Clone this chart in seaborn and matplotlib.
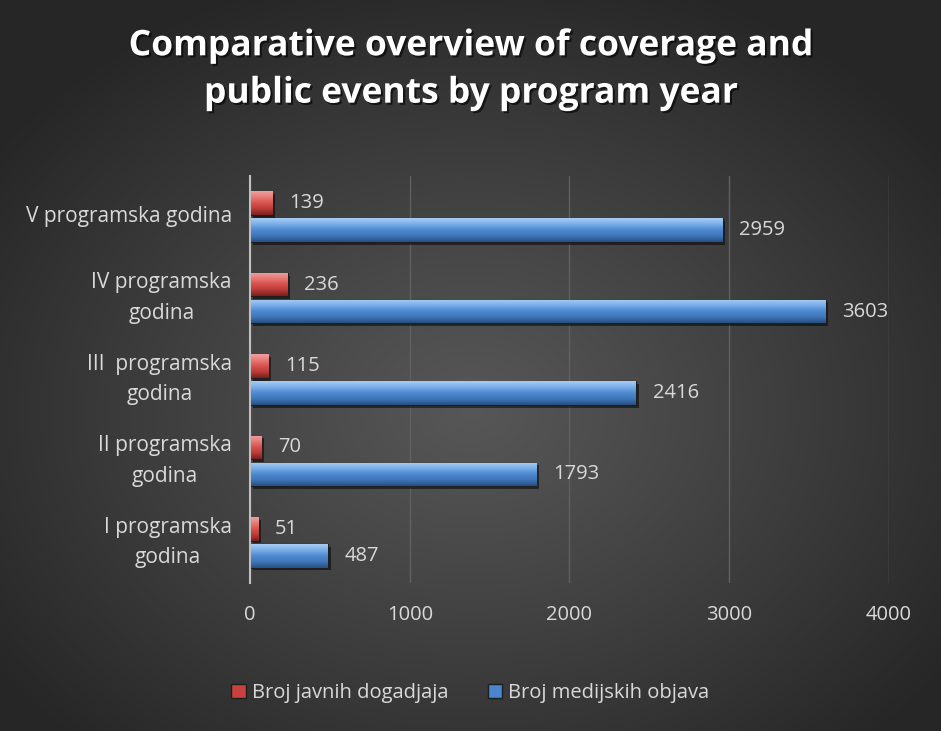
import numpy as np
import pandas as pd
import matplotlib
matplotlib.use("Agg")
import matplotlib.pyplot as plt
import matplotlib.patheffects as pe
from matplotlib.colors import LinearSegmentedColormap
from matplotlib.patches import Patch
import seaborn as sns

# Program years (top to bottom) and their counts
categories = [
    "V programska godina",
    "IV programska\ngodina",
    "III  programska\ngodina",
    "II programska\ngodina",
    "I programska\ngodina",
]
events = [139, 236, 115, 70, 51]          # Broj javnih dogadjaja
media = [2959, 3603, 2416, 1793, 487]     # Broj medijskih objava
series_names = ["Broj javnih dogadjaja", "Broj medijskih objava"]
x_ticks = [0, 1000, 2000, 3000, 4000]
title = "Comparative overview of coverage and\npublic events by program year"

df = pd.DataFrame({
    "year": categories * 2,
    "value": events + media,
    "series": [series_names[0]] * len(categories) + [series_names[1]] * len(categories),
})

sns.set_theme(style="white")
plt.rcParams["font.family"] = ["Open Sans", "DejaVu Sans"]
text_col = "#d9d9d9"

fig = plt.figure(figsize=(9.41, 7.31), dpi=100)

# Radial dark-grey background
bg = fig.add_axes([0, 0, 1, 1], zorder=-10)
h, w = 731, 941
yy, xx = np.mgrid[0:h, 0:w]
r = np.sqrt(((xx - 0.50 * w) / (0.62 * w)) ** 2 + ((yy - 0.56 * h) / (0.62 * h)) ** 2)
r = np.clip(r, 0, 1)
shade = 0.34 - 0.19 * r ** 1.1
bg.imshow(np.dstack([shade] * 3), extent=[0, 1, 0, 1], aspect="auto", origin="upper")
bg.set_axis_off()

ax = fig.add_axes([250 / 941, 1 - 583 / 731, 639 / 941, 407 / 731])
ax.patch.set_alpha(0)

palette = {series_names[0]: "#c9413e", series_names[1]: "#4a86cf"}
sns.barplot(data=df, y="year", x="value", hue="series", order=categories,
            hue_order=series_names, palette=palette, orient="h",
            width=0.66, gap=0.12, saturation=1, ax=ax, legend=False, zorder=3)

# Bevel-like shading on each bar
cmaps = {
    series_names[0]: LinearSegmentedColormap.from_list(
        "r", ["#7a1f1d", "#b83b38", "#d9514e", "#e67a77", "#f0a09e"]),
    series_names[1]: LinearSegmentedColormap.from_list(
        "b", ["#274f80", "#3f76b8", "#4d89d1", "#79aee8", "#a8cdf5"]),
}
grad = np.linspace(0, 1, 64).reshape(-1, 1)
for container, name in zip(ax.containers, series_names):
    for bar in container:
        x0, y0 = bar.get_x(), bar.get_y()
        bw, bh = bar.get_width(), bar.get_height()
        im = ax.imshow(grad, cmap=cmaps[name], aspect="auto",
                       extent=[x0, x0 + bw, y0 + bh, y0], origin="lower",
                       zorder=4, interpolation="bicubic")
        im.set_clip_path(bar)
        bar.set_edgecolor("#1e1e1e")
        bar.set_linewidth(0.8)
        bar.set_path_effects([pe.withSimplePatchShadow(offset=(2, -2), shadow_rgbFace="black", alpha=0.5)])
    ax.bar_label(container, labels=[f"{int(b.get_width())}" for b in container],
                 padding=12, color=text_col, fontsize=14.5, zorder=6)

ax.set_xlim(0, 4000)
ax.set_ylim(4.5, -0.5)
ax.set_xticks(x_ticks)
ax.set_xticklabels([str(t) for t in x_ticks], color=text_col, fontsize=14.5)
ax.tick_params(axis="x", length=0, pad=16)
ax.tick_params(axis="y", length=0, pad=13)
for lbl in ax.get_yticklabels():
    lbl.set_color(text_col)
    lbl.set_fontsize(15)
    lbl.set_multialignment("center")
    lbl.set_verticalalignment("center")
    lbl.set_linespacing(1.6)
ax.set_xlabel("")
ax.set_ylabel("")
ax.grid(axis="x", color="#606060", linewidth=1, zorder=0)
ax.grid(axis="y", visible=False)
for s in ["top", "right", "bottom"]:
    ax.spines[s].set_visible(False)
ax.spines["left"].set_color("#bfbfbf")
ax.spines["left"].set_linewidth(1.5)
ax.spines["left"].set_zorder(7)

fig.text(0.5, 1 - 70 / 731, title, ha="center", va="center", color="white",
         fontsize=25.5, fontweight="bold", linespacing=1.42,
         path_effects=[pe.withSimplePatchShadow(offset=(1.5, -1.5), shadow_rgbFace="black", alpha=0.6)])

# Legend
handles = [Patch(facecolor=palette[n], edgecolor="#1e1e1e", label=n) for n in series_names]
leg = fig.legend(handles=handles, loc="center", bbox_to_anchor=(0.5, 1 - 693 / 731),
                 ncol=2, frameon=False, fontsize=14.5, handlelength=0.7, handleheight=0.7,
                 handletextpad=0.3, columnspacing=2.0)
for t in leg.get_texts():
    t.set_color(text_col)

fig.savefig("out.png", dpi=100)
